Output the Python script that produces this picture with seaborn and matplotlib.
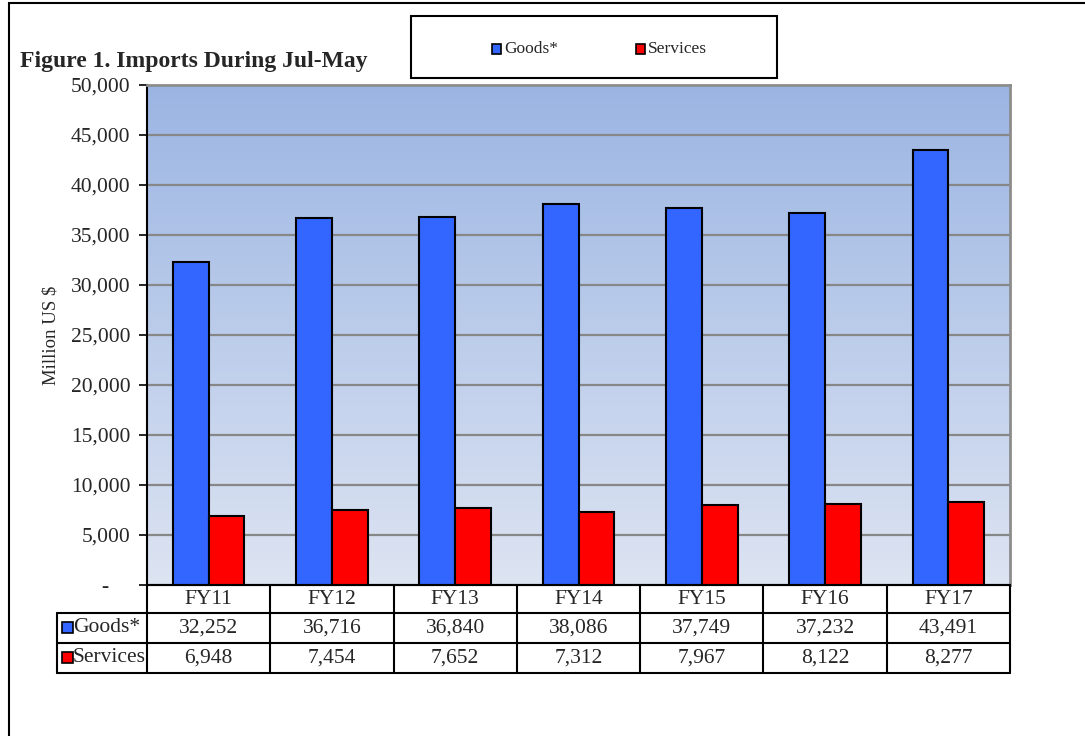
import numpy as np
import pandas as pd
import matplotlib
matplotlib.use("Agg")
import matplotlib.pyplot as plt
import seaborn as sns
from matplotlib.patches import Rectangle
from matplotlib.lines import Line2D
from matplotlib.colors import LinearSegmentedColormap

years = ["FY11", "FY12", "FY13", "FY14", "FY15", "FY16", "FY17"]
goods = [32252, 36716, 36840, 38086, 37749, 37232, 43491]
services = [6948, 7454, 7652, 7312, 7967, 8122, 8277]
series_names = ["Goods*", "Services"]
colors = ["#3366FF", "#FF0000"]
yticks = [0, 5000, 10000, 15000, 20000, 25000, 30000, 35000, 40000, 45000, 50000]

df = pd.DataFrame({
    "year": years * 2,
    "value": goods + services,
    "series": [series_names[0]] * len(years) + [series_names[1]] * len(years),
})

sns.set_theme(style="white")
plt.rcParams["font.family"] = ["Liberation Serif", "DejaVu Serif"]

W, H = 1085, 736
fig = plt.figure(figsize=(W / 100, H / 100), dpi=100)
fx = lambda px: px / W
fy = lambda py: 1 - py / H

# outer frame (left and top visible)
fig.add_artist(Rectangle((fx(9), fy(760)), fx(1100), fy(3) - fy(760), transform=fig.transFigure,
                         fill=False, edgecolor="black", lw=1.5))

ax = fig.add_axes([fx(147), fy(585), fx(1010) - fx(147), fy(85) - fy(585)])

# gradient background
cmap = LinearSegmentedColormap.from_list("bg", ["#DDE4F2", "#9BB5E3"])
grad = np.linspace(0, 1, 256).reshape(-1, 1)
ax.imshow(grad, cmap=cmap, aspect="auto", extent=[0, 1, 0, 1], origin="lower",
          transform=ax.transAxes, zorder=0)

sns.barplot(data=df, x="year", y="value", hue="series", palette=colors,
            width=0.58, gap=0, edgecolor="black", linewidth=1.5, saturation=1,
            ax=ax, legend=False, zorder=3)

ax.set_ylim(0, 50000)
ax.set_xlim(-0.5, len(years) - 0.5)
ax.set_yticks(yticks)
ax.set_yticklabels(["-    " if v == 0 else f"{v:,}" for v in yticks], fontsize=15.5)
ax.set_xticks([])
ax.set_xlabel("")
ax.set_ylabel("Million US $", fontsize=13.5, labelpad=8)
for v in yticks[1:-1]:
    ax.axhline(v, color="#878787", lw=1.6, zorder=1)
ax.tick_params(axis="y", which="both", left=True, length=6, width=1.2, color="black", pad=6)
for s in ["top", "right"]:
    ax.spines[s].set_color("#8C8C8C")
    ax.spines[s].set_linewidth(2)
ax.spines["left"].set_color("black")
ax.spines["left"].set_linewidth(1.5)
ax.spines["bottom"].set_color("black")
ax.spines["bottom"].set_linewidth(1.5)
ax.set_zorder(2)

# data table (x in data coords, y in axes fraction)
tr = ax.get_xaxis_transform()
unit = 500.0
r0, r1, r2, r3 = 0, -28 / unit, -58 / unit, -88 / unit
lab_left = -0.5 - 90 / 123.3
n = len(years)
kw = dict(transform=tr, color="black", lw=1.5, clip_on=False, zorder=5)
ax.add_line(Line2D([-0.5, n - 0.5], [r0, r0], **kw))
for r in (r1, r2, r3):
    ax.add_line(Line2D([lab_left, n - 0.5], [r, r], **kw))
for i in range(n + 1):
    ax.add_line(Line2D([i - 0.5, i - 0.5], [r0, r3], **kw))
ax.add_line(Line2D([lab_left, lab_left], [r1, r3], **kw))

for i, y in enumerate(years):
    ax.text(i, (r0 + r1) / 2, y, transform=tr, ha="center", va="center", fontsize=15.5, clip_on=False)
    ax.text(i, (r1 + r2) / 2, f"{goods[i]:,}", transform=tr, ha="center", va="center", fontsize=15.5, clip_on=False)
    ax.text(i, (r2 + r3) / 2, f"{services[i]:,}", transform=tr, ha="center", va="center", fontsize=15.5, clip_on=False)

for name, col, ry in zip(series_names, colors, [(r1 + r2) / 2, (r2 + r3) / 2]):
    cy = fy(585) + ry * (fy(85) - fy(585))
    fig.add_artist(Rectangle((fx(62), cy - fx(5) * W / H), fx(11), fx(11) * W / H,
                             transform=fig.transFigure, facecolor=col, edgecolor="black", lw=1.2, zorder=6))
    fig.text(fx(73), cy, name, ha="left", va="center", fontsize=15.5)

# legend box
fig.add_artist(Rectangle((fx(411), fy(78)), fx(777) - fx(411), fy(16) - fy(78),
                         transform=fig.transFigure, fill=False, edgecolor="black", lw=1.5))
for name, col, lx in zip(series_names, colors, [492, 636]):
    fig.add_artist(Rectangle((fx(lx), fy(54)), fx(9), fy(44) - fy(54), transform=fig.transFigure,
                             facecolor=col, edgecolor="black", lw=1.2))
    fig.text(fx(lx + 12), fy(49), name, ha="left", va="center", fontsize=12.5)

fig.text(fx(20), fy(62), "Figure 1. Imports During Jul-May", ha="left", va="center",
         fontsize=17, fontweight="bold")

fig.savefig("out.png", dpi=100)
